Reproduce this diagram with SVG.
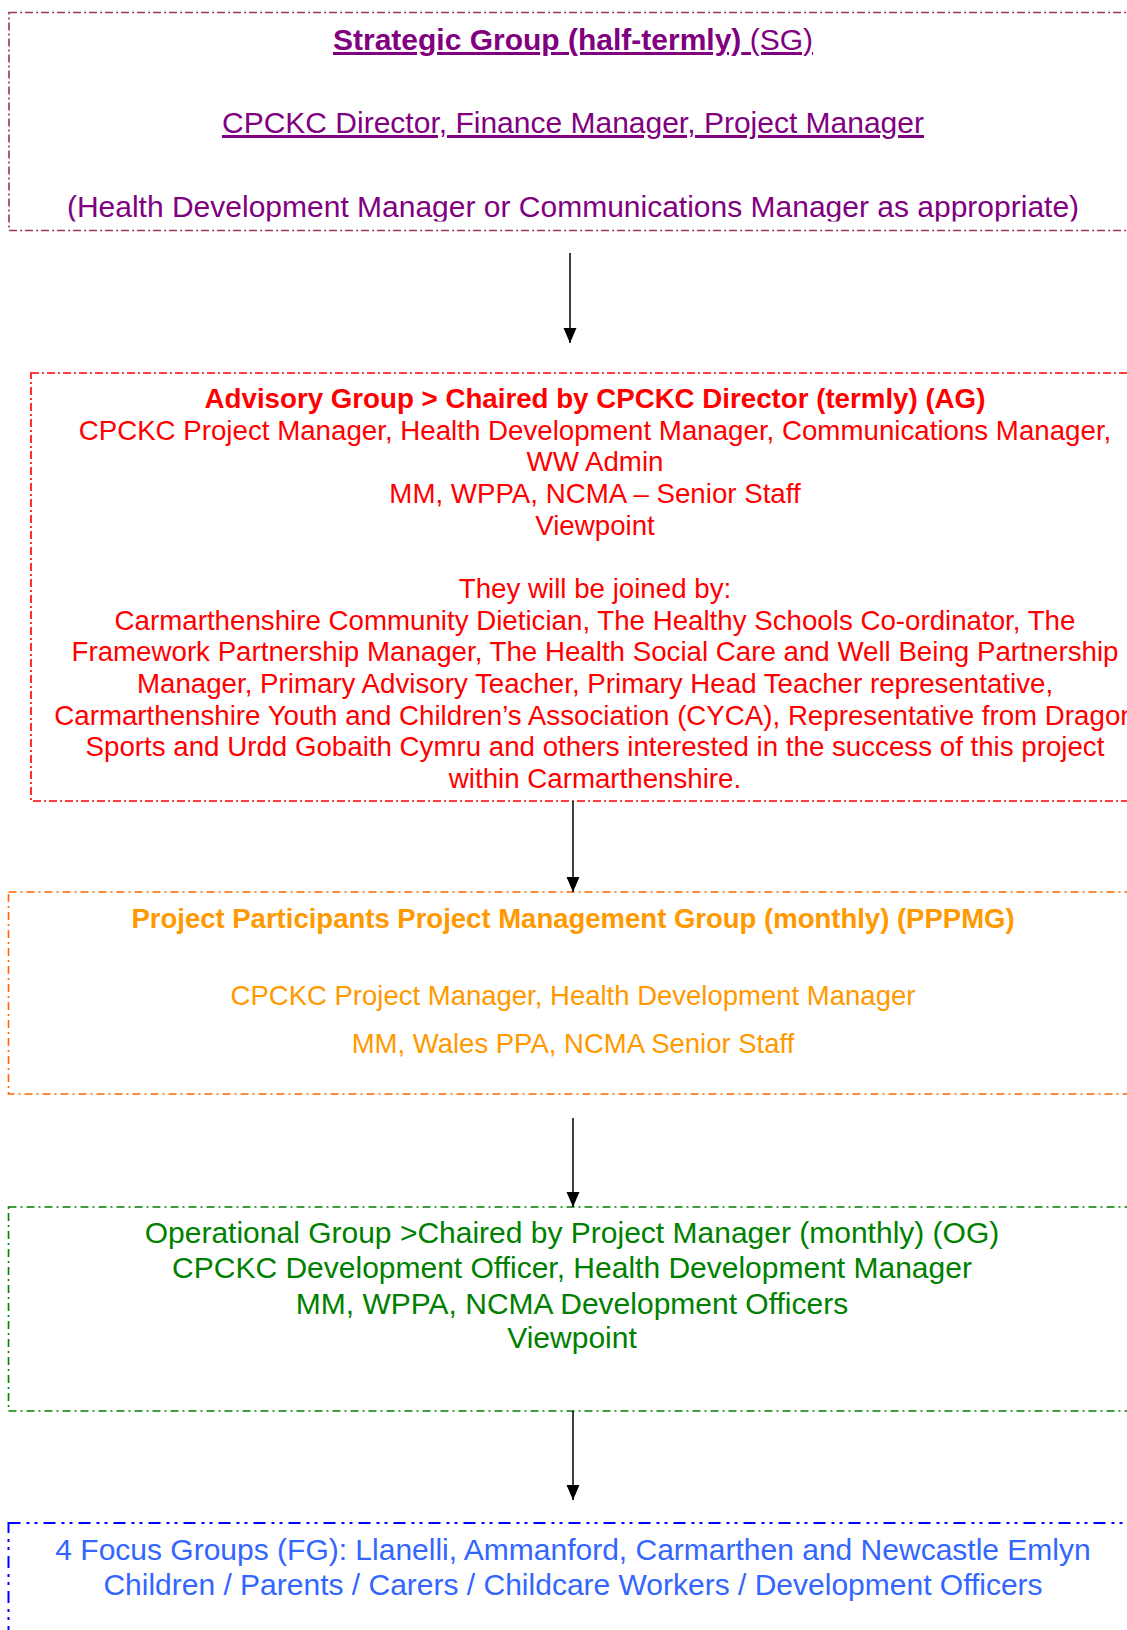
<svg xmlns="http://www.w3.org/2000/svg" width="1127" height="1630" viewBox="0 0 1127 1630">
<style>
  text { font-family: "Liberation Sans", Arial, sans-serif; text-anchor: middle; }
  .b { font-weight: bold; }
  .u { text-decoration: underline; text-decoration-skip-ink: none; text-decoration-thickness: 2px; }
  .box { fill: none; stroke-width: 1.6; }
  .sg { fill: #800080; font-size: 30px; }
  .ag { fill: #ff0000; font-size: 27.7px; }
  .pp { fill: #ff9900; font-size: 27.5px; }
  .og { fill: #008000; font-size: 30px; }
  .fg { fill: #3366ff; font-size: 30px; }
  .conn { stroke: #000; stroke-width: 1.5; fill: none; }
</style>
<defs>
  <marker id="ah" markerUnits="userSpaceOnUse" markerWidth="16" markerHeight="14" refX="15" refY="6.5" orient="auto">
    <path d="M0,0 L15,6.5 L0,13 Z" fill="#000"/>
  </marker>
  <clipPath id="c1"><rect x="0" y="0" width="1127" height="221.5"/></clipPath>
</defs>
<rect width="1127" height="1630" fill="#fff"/>

<g id="strategic-group">
  <rect class="box" x="9" y="12.5" width="1135" height="218" stroke="#993366" stroke-dasharray="8 3 2 3"/>
  <g clip-path="url(#c1)">
    <text class="sg u" x="573" y="50"><tspan class="b">Strategic Group (half-termly)</tspan> (SG)</text>
    <text class="sg u" x="573" y="133">CPCKC Director, Finance Manager, Project Manager</text>
    <text class="sg" x="573" y="217">(Health Development Manager or Communications Manager as appropriate)</text>
  </g>
</g>

<g id="advisory-group">
  <rect class="box" x="31" y="373" width="1135" height="428" stroke="#ff0000" stroke-dasharray="8 3 2 3"/>
  <text class="ag b" x="595" y="408">Advisory Group &gt; Chaired by CPCKC Director (termly) (AG)</text>
  <text class="ag" x="595" y="439.7">CPCKC Project Manager, Health Development Manager, Communications Manager,</text>
  <text class="ag" x="595" y="471.3">WW Admin</text>
  <text class="ag" x="595" y="503">MM, WPPA, NCMA – Senior Staff</text>
  <text class="ag" x="595" y="534.7">Viewpoint</text>
  <text class="ag" x="595" y="598">They will be joined by:</text>
  <text class="ag" x="595" y="629.7">Carmarthenshire Community Dietician, The Healthy Schools Co-ordinator, The</text>
  <text class="ag" x="595" y="661.3">Framework Partnership Manager, The Health Social Care and Well Being Partnership</text>
  <text class="ag" x="595" y="693">Manager, Primary Advisory Teacher, Primary Head Teacher representative,</text>
  <text class="ag" x="595" y="724.7">Carmarthenshire Youth and Children’s Association (CYCA), Representative from Dragon</text>
  <text class="ag" x="595" y="756.3">Sports and Urdd Gobaith Cymru and others interested in the success of this project</text>
  <text class="ag" x="595" y="788">within Carmarthenshire.</text>
</g>

<g id="pppmg">
  <rect class="box" x="8.5" y="892" width="1135" height="202" stroke="#ff6600" stroke-dasharray="8 4 2 4"/>
  <text class="pp b" x="573" y="928">Project Participants Project Management Group (monthly) (PPPMG)</text>
  <text class="pp" x="573" y="1005">CPCKC Project Manager, Health Development Manager</text>
  <text class="pp" x="573" y="1053">MM, Wales PPA, NCMA Senior Staff</text>
</g>

<g id="operational-group">
  <rect class="box" x="8.5" y="1207" width="1135" height="204" stroke="#008000" stroke-dasharray="8 4 2 4"/>
  <text class="og" x="572" y="1243">Operational Group &gt;Chaired by Project Manager (monthly) (OG)</text>
  <text class="og" x="572" y="1278">CPCKC Development Officer, Health Development Manager</text>
  <text class="og" x="572" y="1314">MM, WPPA, NCMA Development Officers</text>
  <text class="og" x="572" y="1348">Viewpoint</text>
</g>

<g id="focus-groups">
  <rect x="8.5" y="1523" width="1135" height="200" fill="none" stroke="#0000ff" stroke-width="2" stroke-dasharray="12 6 3 5 3 6"/>
  <text class="fg" x="573" y="1560">4 Focus Groups (FG): Llanelli, Ammanford, Carmarthen and Newcastle Emlyn</text>
  <text class="fg" x="573" y="1595">Children / Parents / Carers / Childcare Workers / Development Officers</text>
</g>

<g id="connectors">
  <line class="conn" x1="570" y1="253" x2="570" y2="343" marker-end="url(#ah)"/>
  <line class="conn" x1="573" y1="801" x2="573" y2="892" marker-end="url(#ah)"/>
  <line class="conn" x1="573" y1="1118" x2="573" y2="1207" marker-end="url(#ah)"/>
  <line class="conn" x1="573" y1="1411" x2="573" y2="1500" marker-end="url(#ah)"/>
</g>
</svg>
